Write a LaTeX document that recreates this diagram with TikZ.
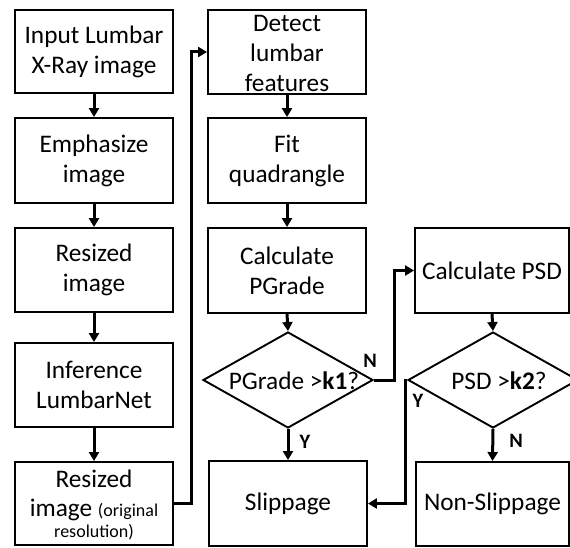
\documentclass[tikz,border=0pt]{standalone}
\usepackage{fontspec}
\setmainfont{Carlito}
\usetikzlibrary{shapes.geometric,arrows.meta}
\begin{document}
\begin{tikzpicture}[x=1pt,y=-1pt,
  box/.style={draw, line width=1.9pt, inner sep=0pt, align=center,
    font=\fontsize{25.3}{30}\selectfont},
  decision/.style={draw, diamond, line width=1.9pt, inner sep=0pt,
    minimum width=170pt, minimum height=96pt},
  txt/.style={inner sep=0pt, align=center, font=\fontsize{25.3}{30}\selectfont},
  yn/.style={inner sep=0pt, font=\fontsize{20.5}{22}\selectfont\bfseries},
  conn/.style={line width=3pt, -{Triangle[length=9pt,width=10pt]}}]
\useasboundingbox (0,0) rectangle (570,548);
\clip (0,0) rectangle (570,548);

% left column: image preparation
\node[box, minimum width=158pt, minimum height=83pt] (input) at (94,51.5) {Input Lumbar\\X-Ray image};
\node[box, minimum width=158pt, minimum height=85pt] (emph) at (94,160.5) {Emphasize\\image};
\node[box, minimum width=158pt, minimum height=84pt] (resz) at (94,270) {Resized\\image};
\node[box, minimum width=158pt, minimum height=84pt] (infer) at (94,385) {Inference\\LumbarNet};
\node[box, minimum width=158pt, minimum height=83pt] (orig) at (94,503.5) {};
\node[txt] at (94,505) {Resized\\[-1pt]image {\fontsize{18}{21}\selectfont(original}\\[-9pt]{\fontsize{18}{21}\selectfont resolution)}};

% middle column: feature analysis
\node[box, minimum width=158pt, minimum height=84pt] (detect) at (287,52) {};
\node[txt] at (287,53) {Detect\\lumbar\\features};
\node[box, minimum width=158pt, minimum height=85pt] (fit) at (287,160.5) {Fit\\quadrangle};
\node[box, minimum width=158pt, minimum height=85pt] (pgrade) at (287,270.5) {Calculate\\PGrade};
\node[decision] (d1) at (288,380) {};
\node[txt] at (294,381) {PGrade >\textbf{k1}?};
\node[box, minimum width=158pt, minimum height=85pt] (slip) at (288,503.5) {Slippage};

% right column: PSD check
\node[box, minimum width=154pt, minimum height=85pt] (psd) at (492,270.5) {Calculate PSD};
\node[decision] (d2) at (493,380) {};
\node[txt] at (499,381) {PSD >\textbf{k2}?};
\node[box, minimum width=153pt, minimum height=84pt] (nonslip) at (492.5,504) {Non-Slippage};

% connectors
\draw[conn] (input.south) -- (emph.north);
\draw[conn] (emph.south) -- (resz.north);
\draw[conn] (resz.south) -- (infer.north);
\draw[conn] (infer.south) -- (orig.north);
\draw[conn] (orig.east) -- ++(18,0) |- (detect.west);
\draw[conn] (detect.south) -- (fit.north);
\draw[conn] (fit.south) -- (pgrade.north);
\draw[conn] (pgrade.south) -- (d1.north);
\draw[conn] (d1.south) -- (slip.north);
\draw[conn] (d1.east) -- ++(21,0) |- (psd.west);
\draw[conn] (psd.south) -- (d2.north);
\draw[conn] (d2.south) -- (nonslip.north);
\draw[conn] (d2.west) -- ++(-2,0) |- (slip.east);

% branch labels
\node[yn] at (370,361) {N};
\node[yn] at (305,442) {Y};
\node[yn] at (418,401) {Y};
\node[yn] at (516,441) {N};
\end{tikzpicture}
\end{document}
